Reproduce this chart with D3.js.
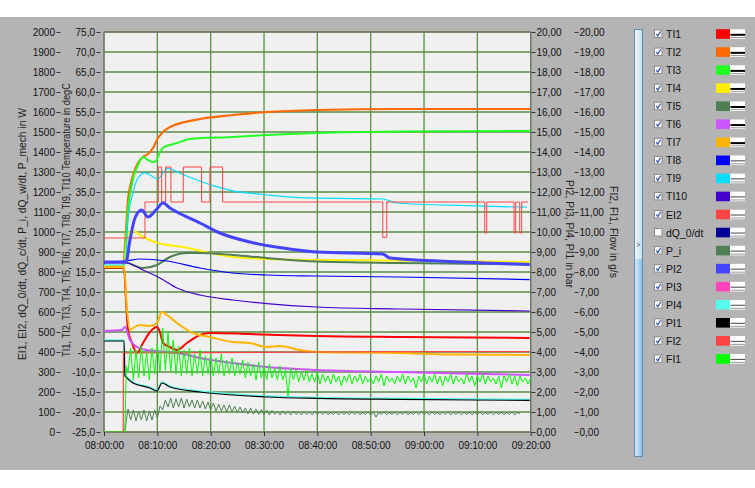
<!DOCTYPE html>
<html><head><meta charset="utf-8">
<script src="https://cdn.jsdelivr.net/npm/d3@7"></script>
<style>
html,body{margin:0;padding:0;background:#fff;}
svg{display:block;}
text{font-family:"Liberation Sans",Arial,sans-serif;}
</style></head><body>
<svg id="c" width="755" height="488"></svg>
<script>
// ---------- tick labels ----------
const timeTicks = ["08:00:00","08:10:00","08:20:00","08:30:00","08:40:00","08:50:00","09:00:00","09:10:00","09:20:00"];
const wTicks = [0,100,200,300,400,500,600,700,800,900,1000,1100,1200,1300,1400,1500,1600,1700,1800,1900,2000];
const degTicks = [-25,-20,-15,-10,-5,0,5,10,15,20,25,30,35,40,45,50,55,60,65,70,75];
const barTicks = [0,1,2,3,4,5,6,7,8,9,10,11,12,13,14,15,16,17,18,19,20];
const flowTicks = [0,1,2,3,4,5,6,7,8,9,10,11,12,13,14,15,16,17,18,19,20];

// ---------- legend ----------
const legendNames = ["TI1","TI2","TI3","TI4","TI5","TI6","TI7","TI8","TI9","TI10","EI2","dQ_0/dt","P_i","PI2","PI3","PI4","PI1","FI2","FI1"];
const legendColors = ["#ff0000","#ff6a00","#22ff22","#ffee00","#4f7f55","#cc55ff","#ffb400","#0000ff","#00ddff","#4400cc","#ff4444","#000099","#4f7f55","#4444ff","#ff44bb","#55ffee","#000000","#ff4444","#00ff00"];
const legendChecked = [1,1,1,1,1,1,1,1,1,1,1,0,1,1,1,1,1,1,1];
const legendThick = [1,1,1,1,1,1,1,0,0,0,0,0,0,0,0,0,0,0,0];

// ---------- series: [minutes after 08:00, value] ----------
// temperatures, degC
const TI1 = [[0,16],[3.75,16],[4.12,8],[4.5,0.5],[5.25,-2.75],[6.18,-5.25],[7.31,-2.75],[8.62,0],[9.93,1.25],[10.49,0],[11.05,-2.75],[12.37,-3.75],[13.68,-4.5],[15.55,-2.75],[17.99,-0.75],[19.86,-0.25],[27.35,-0.5],[39.9,-1],[55.5,-1.25],[79.8,-1.5]];
const TI2 = [[0,16.5],[3.6,16.5],[4.13,25.5],[4.5,33],[5.06,37.25],[5.63,40],[6.38,42.25],[7.31,43.75],[8.25,44.5],[9.19,46],[10.13,48.5],[11.06,50],[12.38,51.25],[15.19,52.5],[18,53.25],[24.19,54.25],[30.56,55],[39.94,55.5],[55.5,55.75],[79.9,55.75]];
const TI3 = [[0,16.2],[3.7,16.2],[4.13,23],[4.5,30.5],[5.06,36],[5.63,39.25],[6.38,41.75],[7.31,43.75],[8.25,43],[9.19,42.5],[9.75,42.75],[10.5,45],[11.25,46.25],[12.38,46.75],[13.69,47.25],[16.13,48.25],[24.19,48.75],[30.56,49.25],[39.94,49.75],[55.5,50.1],[79.9,50.25]];
const TI4 = [[0,16.5],[3.75,16.5],[4.5,24.5],[5.43,25.25],[7.31,23.75],[10.12,22.25],[14.8,21.25],[19.86,19.75],[24.17,18.75],[30.54,18.25],[39.9,18],[55.46,17.9],[79.81,17.5]];
const TI5 = [[0,17.5],[3.93,17.5],[5.43,16.75],[7.31,16],[9.93,16.75],[12.37,18.75],[15.55,19.75],[17.99,19.75],[24.17,19.25],[30.54,18.5],[39.9,17.6],[55.46,17.25],[79.81,16.9]];
const TI6 = [[0,0.25],[3.37,0.5],[3.93,1.25],[4.87,-2],[6.18,-3.75],[8.06,-4.5],[11.8,-5],[14.8,-5.5],[17.99,-6.5],[24.17,-7.75],[30.54,-8.75],[39.9,-9.5],[55.46,-10],[79.81,-10.75]];
const TI7 = [[0,16.25],[3.75,16.25],[4.31,5.5],[4.87,0.5],[5.43,1],[6.74,1.75],[8.62,1.5],[9.93,2.25],[10.87,5],[11.8,4.25],[13.68,2.25],[16.67,-0.25],[19.86,-1.25],[24.17,-2.5],[27.35,-2.75],[30.54,-3.75],[32.97,-3.5],[36.72,-4.5],[39.9,-5],[55.46,-5.25],[64.82,-5.6],[79.81,-5.75]];
const TI8 = [[0,17.5],[3.93,17.75],[6.74,18.25],[11.8,17.75],[17.99,16],[24.17,14.75],[30.54,14.25],[39.9,14],[55.46,13.75],[79.81,13.1]];
const TI9 = [[0,16.75],[3.93,16.75],[4.5,28],[5.43,34.75],[6.37,38.5],[7.68,39.8],[9.18,38.8],[10.12,38.25],[11.05,39.8],[11.99,40.9],[14.24,39.7],[17.42,38],[20.42,36.6],[24.17,35.3],[27.35,34.7],[30.54,34.25],[36.72,33.6],[52.27,33.25],[54.89,32.25],[64.82,31.7],[79.25,31.2]];
const TI10 = [[0,17.25],[4.12,17.25],[7.31,15.5],[10.49,13.5],[13.68,11],[17.99,9.25],[24.17,8],[30.54,7.1],[39.9,6.25],[55.46,5.75],[79.81,5.25]];

// power, W
const EI2 = [[0,970],[7.68,1150],[10.17,1325],[10.81,1150],[11.56,1325],[12.55,1150],[14.86,1325],[18.3,1150],[19.86,1325],[22.24,1150],[52.27,973],[53.02,1150],[71.38,995],[71.76,1150],[76.87,995],[77.19,1150],[77.94,995],[78.31,1150],[79.44,1150]];
const P_i_start = [[0,0],[3.9,0],[4.2,60]];
const P_i_from = 4.5, P_i_step = 0.5;
const P_i = [115,60,110,55,105,60,110,55,105,60,110,70,130,110,160,125,170,120,165,125,170,120,165,125,160,120,160,120,155,115,150,110,145,105,140,105,135,100,135,100,130,95,125,95,120,90,120,90,115,88,112,88,110,85,108,88,105,85,105,88,102,85,105,88,100,85,102,88,100,86,102,88,
  100,88,102,86,98,88,100,85,100,88,98,86,102,88,100,86,98,88,100,85,100,75,98,88,100,86,98,88,100,86,98,88,102,86,98,88,100,86,104,88,98,86,100,88,98,86,100,88,102,86,98,88,100,86,98,88,100,86,98,88,100,86,98,88,100,86,98,88,100,86,98,88,100,86,98,92];

// pressure, bar
const PI2 = [[0,8.5],[4.12,8.5],[4.87,9.6],[5.81,10.7],[7.06,11.1],[8.24,10.75],[9.74,11.1],[11.05,11.45],[12.37,11.2],[13.68,11.0],[17.99,10.45],[21.73,9.95],[27.35,9.5],[33.54,9.2],[39.9,9.0],[52.27,8.9],[53.58,8.7],[64.82,8.53],[79.81,8.38]];
const PI3 = [];
const PI4 = [[0,4.6],[3.75,4.6],[3.93,2.85],[4.31,2.75],[5.43,2.5],[8.62,2.25],[9.93,2.1],[10.87,2.5],[12.37,2.3],[17.99,2.05],[24.17,1.9],[30.54,1.8],[39.9,1.73],[55.46,1.68],[79.81,1.63]];
const PI1 = [[0,4.55],[3.75,4.55],[3.93,2.8],[4.31,2.7],[5.43,2.45],[8.62,2.2],[9.93,2.05],[10.87,2.45],[12.37,2.25],[17.99,2.0],[24.17,1.85],[30.54,1.75],[39.9,1.68],[55.46,1.63],[79.81,1.58]];

// flow, g/s
const FI2 = [[0,0],[3.6,0],[3.65,3.95],[20,3.97],[40,4.0],[60,4.02],[79.8,4.02]];
const FI1_start = [[0,0],[3.9,0],[4.2,3.3]];
const FI1_from = 4.5, FI1_step = 0.5;
const FI1 = [3.0,4.2,2.6,4.1,2.7,4.3,2.8,4.0,2.6,4.2,2.9,4.4,3.0,5.2,3.1,5.0,3.0,4.6,2.9,4.3,2.8,4.1,2.9,4.2,2.8,3.9,2.9,4.1,2.8,3.8,2.9,3.9,2.8,3.7,2.9,3.9,2.8,3.6,2.9,3.7,2.8,3.5,2.9,3.6,2.7,3.5,2.8,3.4,2.6,3.5,2.7,3.3,2.6,3.4,2.7,3.2,2.6,3.3,2.6,3.1,1.8,3.2,2.6,3.1,2.5,3.0,2.6,3.1,2.5,2.9,2.5,3.0,
  2.4,2.9,2.5,2.8,2.4,2.9,2.5,2.8,2.3,2.8,2.5,2.9,2.4,2.8,2.5,2.9,2.4,2.8,2.5,2.7,2.4,2.8,2.5,2.9,2.3,2.8,2.5,2.7,2.4,2.8,2.5,2.9,2.4,2.8,2.5,2.7,2.2,2.8,2.5,2.9,2.4,2.8,2.5,2.9,2.4,2.8,2.3,2.8,2.5,2.9,2.4,2.8,2.5,2.7,2.4,2.9,2.5,2.8,2.3,2.8,2.5,2.9,2.4,2.8,2.5,2.7,2.4,2.8,2.2,2.8,2.5,2.9,2.4,2.8,2.3,2.8,2.5,2.7,2.4,2.7];

// ---------- layout ----------
const svg = d3.select("#c");
const L = 104, R = 530.7, T = 32, B = 432;
const base = new Date(2000,0,1,8,0,0);
const toDate = m => new Date(base.getTime() + m*60000);
const parseT = d3.timeParse("%H:%M:%S");
const tickDates = timeTicks.map(s => { const p = parseT(s); return new Date(2000,0,1,p.getHours(),p.getMinutes(),p.getSeconds()); });

const x = d3.scaleTime().domain([tickDates[0], tickDates[tickDates.length-1]]).range([L, R]);
const yW = d3.scaleLinear().domain([0,2000]).range([B,T]);
const yC = d3.scaleLinear().domain([-25,75]).range([B,T]);
const yP = d3.scaleLinear().domain([0,20]).range([B,T]);
const yF = d3.scaleLinear().domain([0,20]).range([B,T]);

// backgrounds
svg.append("rect").attr("x",0).attr("y",17).attr("width",755).attr("height",453).attr("fill","#b4b4b4");
svg.append("rect").attr("x",L).attr("y",T).attr("width",R-L).attr("height",B-T).attr("fill","#f0f0f0");

// grid
const grid = svg.append("g");
grid.selectAll("line.h").data(wTicks).join("line")
  .attr("x1",L).attr("x2",R).attr("y1",d=>yW(d)).attr("y2",d=>yW(d))
  .attr("stroke","#5d8d47").attr("stroke-width",1.3);
grid.selectAll("line.v").data(tickDates).join("line").attr("class","v")
  .attr("x1",d=>x(d)).attr("x2",d=>x(d)).attr("y1",T).attr("y2",B)
  .attr("stroke","#5d8d47").attr("stroke-width",1.3);
svg.append("rect").attr("x",L).attr("y",T).attr("width",R-L).attr("height",B-T)
  .attr("fill","none").attr("stroke","#6e6e6e").attr("stroke-width",1);

const fmt1 = d => d3.format(".1f")(d).replace(".",",").replace("−","-");
const fmt2 = d => d3.format(".2f")(d).replace(".",",");
const fs = "10px", tc = "#111";

// left W axis
const gW = svg.append("g").attr("transform","translate(60.5,0)")
  .call(d3.axisLeft(yW).tickValues(wTicks).tickSize(4).tickPadding(1.5).tickFormat(d3.format("d")));
// degC axis
const gC = svg.append("g").attr("transform","translate(100.5,0)")
  .call(d3.axisLeft(yC).tickValues(degTicks).tickSize(4).tickPadding(1.5).tickFormat(d=>fmt1(d)));
// right bar axis
const gP = svg.append("g").attr("transform","translate(531.5,0)")
  .call(d3.axisRight(yP).tickValues(barTicks).tickSize(4).tickPadding(1).tickFormat(fmt2));
// right flow axis
const gF = svg.append("g").attr("transform","translate(574.5,0)")
  .call(d3.axisRight(yF).tickValues(flowTicks).tickSize(4).tickPadding(1).tickFormat(fmt2));
// x axis
const gX = svg.append("g").attr("transform",`translate(0,${B})`)
  .call(d3.axisBottom(x).tickValues(tickDates).tickSize(4).tickPadding(6).tickFormat(d3.timeFormat("%H:%M:%S")));

[gW,gC,gP,gF,gX].forEach(g=>{
  g.select(".domain").remove();
  g.selectAll(".tick line").attr("stroke","#333");
  g.selectAll(".tick text").attr("fill",tc).style("font-size",fs).style("font-family",null);
});

// axis titles
function title(tx, ty, rot, len, txt){
  svg.append("text").attr("transform",`translate(${tx},${ty}) rotate(${rot})`).attr("text-anchor","middle")
    .style("font-size","10.5px").attr("fill","#222")
    .attr("textLength",len).attr("lengthAdjust","spacingAndGlyphs").text(txt);
}
title(26, 234, -90, 252, "EI1, EI2, dQ_0/dt, dQ_c/dt, P_i, dQ_w/dt, P_mech in W");
title(70, 220, -90, 274, "TI1, TI2, TI3, TI4, TI5, TI6, TI7, TI8, TI9, TI10 Temperature in degC");
title(566, 234, 90, 108, "PI2, PI3, PI4, PI1 in bar");
title(610, 232, 90, 92, "FI2, FI1, Flow in g/s");

// ---------- lines ----------
svg.append("clipPath").attr("id","clip").append("rect").attr("x",L).attr("y",T).attr("width",R-L).attr("height",B-T);
const plot = svg.append("g").attr("clip-path","url(#clip)");
const col = name => legendColors[legendNames.indexOf(name)];
function draw(data, scale, name, w, curve){
  if(!data.length) return;
  const line = d3.line().x(d=>x(toDate(d[0]))).y(d=>scale(d[1])).curve(curve||d3.curveMonotoneX);
  plot.append("path").datum(data).attr("d",line).attr("fill","none")
    .attr("stroke",col(name)).attr("stroke-width",w).attr("stroke-linejoin","round");
}
const seq = (start, from, step, vals) => start.concat(vals.map((v,i)=>[from+i*step, v]));

draw(TI1, yC, "TI1", 2);
draw(TI2, yC, "TI2", 2.2);
draw(TI3, yC, "TI3", 2);
draw(TI4, yC, "TI4", 2);
draw(TI5, yC, "TI5", 2);
draw(TI6, yC, "TI6", 2);
draw(TI7, yC, "TI7", 2);
draw(TI8, yC, "TI8", 1.2);
draw(TI9, yC, "TI9", 1.2);
draw(TI10, yC, "TI10", 1.2);
draw(EI2, yW, "EI2", 1, d3.curveStepAfter);
draw(seq(P_i_start, P_i_from, P_i_step, P_i), yW, "P_i", 1, d3.curveLinear);
draw(PI2, yP, "PI2", 3);
draw(PI3, yP, "PI3", 1);
draw(PI4, yP, "PI4", 1.3);
draw(PI1, yP, "PI1", 1.2);
draw(FI2, yF, "FI2", 1.2, d3.curveLinear);
draw(seq(FI1_start, FI1_from, FI1_step, FI1), yF, "FI1", 1, d3.curveLinear);

// ---------- scrollbar ----------
const defs = svg.append("defs");
const g1 = defs.append("linearGradient").attr("id","sb1");
g1.append("stop").attr("offset","0").attr("stop-color","#f2f8fc");
g1.append("stop").attr("offset","1").attr("stop-color","#c3ddf0");
const g2 = defs.append("linearGradient").attr("id","sb2");
g2.append("stop").attr("offset","0").attr("stop-color","#d6ebf8");
g2.append("stop").attr("offset","1").attr("stop-color","#86c0e8");
svg.append("rect").attr("x",634.5).attr("y",29.5).attr("width",8).attr("height",230).attr("fill","url(#sb1)");
svg.append("rect").attr("x",634.5).attr("y",259.5).attr("width",8).attr("height",197).attr("fill","url(#sb2)");
svg.append("rect").attr("x",634.5).attr("y",29.5).attr("width",8).attr("height",427).attr("fill","none").attr("stroke","#5f8fb5");
svg.append("text").attr("x",636.2).attr("y",247).style("font-size","7px").attr("fill","#333").text(">");

// ---------- legend ----------
const lg = svg.append("g");
legendNames.forEach((n,i)=>{
  const cy = 34 + i*18.05;
  const g = lg.append("g");
  g.append("rect").attr("x",654.5).attr("y",cy-4).attr("width",7.5).attr("height",7.5).attr("fill","#fafafa").attr("stroke","#8c8c8c");
  if(legendChecked[i]) g.append("path").attr("d",`M656.3,${cy} L657.8,${cy+2} L660.6,${cy-2.6}`).attr("fill","none").attr("stroke","#2c4fb4").attr("stroke-width",1.2);
  g.append("text").attr("x",666).attr("y",cy+4).style("font-size","10.5px").attr("fill","#111").text(n);
  g.append("rect").attr("x",716).attr("y",cy-4.8).attr("width",14).attr("height",9.6).attr("fill",legendColors[i]);
  g.append("rect").attr("x",730).attr("y",cy-4.8).attr("width",15).attr("height",9.6).attr("fill","#fff");
  if(legendThick[i]){
    g.append("line").attr("x1",730.5).attr("x2",745).attr("y1",cy+0.8).attr("y2",cy+0.8).attr("stroke","#000").attr("stroke-width",2);
  } else {
    g.append("line").attr("x1",730.5).attr("x2",745).attr("y1",cy+0.5).attr("y2",cy+0.5).attr("stroke","#444").attr("stroke-width",1);
  }
  g.append("line").attr("x1",730.5).attr("x2",745).attr("y1",cy+3.5).attr("y2",cy+3.5).attr("stroke","#999").attr("stroke-width",1);
});
</script>
</body></html>
